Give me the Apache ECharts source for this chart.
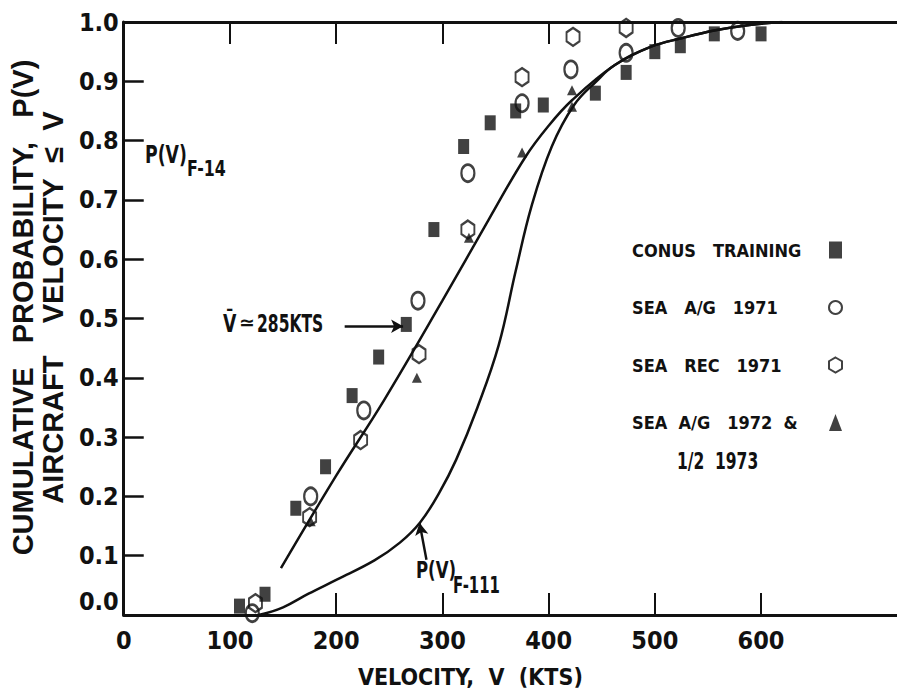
<!DOCTYPE html>
<html>
<head>
<meta charset="utf-8">
<script src="https://cdn.jsdelivr.net/npm/echarts@6/dist/echarts.min.js"></script>
<style>
  html, body { margin: 0; padding: 0; background: #fff; }
  #chart { width: 897px; height: 695px; }
</style>
</head>
<body>
<div id="chart"></div>
<script>
// ---------- data ----------
const xLabelValues = [0, 100, 200, 300, 400, 500, 600];
const xBottomTicks = [200, 300, 400, 500, 600];
const xTopTicks = [100, 200, 300, 400, 500];
const yLabelValues = [0, 0.1, 0.2, 0.3, 0.4, 0.5, 0.6, 0.7, 0.8, 0.9, 1.0];
const yTickValues = [0.1, 0.2, 0.3, 0.4, 0.5, 0.6, 0.7, 0.8, 0.9];

const seriesNames = ['CONUS   TRAINING', 'SEA   A/G   1971', 'SEA   REC   1971', 'SEA  A/G   1972  &  1/2  1973'];

const conusTraining = [[109,0.015],[133,0.035],[162,0.18],[190,0.25],[215,0.37],[240,0.435],[266,0.49],[292,0.65],[320,0.79],[345,0.83],[369,0.85],[395,0.86],[444,0.88],[473,0.915],[500,0.95],[524,0.96],[556,0.98],[600,0.98]];
const seaAG1971 = [[121,0.003],[176,0.2],[226,0.345],[277,0.53],[324,0.745],[375,0.863],[421,0.92],[473,0.948],[522,0.99],[578,0.985]];
const seaRec1971 = [[124,0.02],[175,0.165],[223,0.295],[278,0.44],[324,0.65],[375,0.907],[423,0.975],[473,0.99]];
const seaAG1972 = [[176,0.158],[276,0.40],[325,0.636],[375,0.78],[422,0.885],[422,0.857]];

const f14Curve = [[148,0.079],[200,0.235],[245,0.362],[300,0.53],[344,0.668],[378,0.772],[400,0.825],[422,0.868],[462,0.927],[496,0.958],[526,0.973],[557,0.986],[589,0.995],[620,1.0]];
const f111Curve = [[127,0],[150,0.013],[174,0.036],[201,0.06],[236,0.092],[260,0.122],[279,0.156],[297,0.206],[313,0.262],[333,0.35],[353,0.455],[369,0.58],[384,0.69],[403,0.79],[424,0.86],[445,0.9],[462,0.927],[496,0.958],[526,0.973],[557,0.986],[589,0.995],[620,1.0]];

// annotation arrows (data coordinates)
const meanArrow = [[208,0.487],[263,0.487]];
const f111Arrow = [[285,0.093],[278.5,0.155]];

// ---------- styling ----------
const NARROW = '"Liberation Sans Narrow", "DejaVu Sans Condensed", "Arial Narrow", sans-serif';
const WIDE = '"Liberation Sans", Arial, "DejaVu Sans", sans-serif';
const INK = '#111';
const HEX = 'path://M0,-1 L0.866,-0.5 L0.866,0.5 L0,1 L-0.866,0.5 L-0.866,-0.5 Z';

const chart = echarts.init(document.getElementById('chart'), null, { renderer: 'svg' });

const axisFont = { fontFamily: NARROW, fontWeight: 'bold', fontSize: 25, color: INK };
const legendRich = { fontFamily: NARROW, fontWeight: 'bold', fontSize: 18, color: INK, width: 192, align: 'left', lineHeight: 20 };

function note(text, x, y, size, sx) {
  return { type: 'text', x: x, y: y, scaleX: sx || 0.8, style: { text: text, font: 'bold ' + size + 'px ' + NARROW, fill: INK, verticalAlign: 'middle' } };
}

const option = {
  backgroundColor: '#fff',
  animation: false,
  grid: { left: 113, top: 22, right: 0, bottom: 80 },
  xAxis: [
    {
      type: 'value', min: 0, max: 728, position: 'bottom',
      name: 'VELOCITY,  V  (KTS)', nameLocation: 'middle', nameGap: 50,
      nameTextStyle: { fontFamily: NARROW, fontWeight: 'bold', fontSize: 23, color: INK, padding: [0, 80, 0, 0] },
      axisLine: { lineStyle: { color: INK, width: 3 } },
      axisTick: { inside: true, length: 22, customValues: xBottomTicks, lineStyle: { color: INK, width: 2 } },
      axisLabel: Object.assign({ customValues: xLabelValues, margin: 13 }, axisFont),
      splitLine: { show: false }
    },
    {
      type: 'value', min: 0, max: 728, position: 'top',
      axisLine: { lineStyle: { color: INK, width: 3 } },
      axisTick: { inside: true, length: 22, customValues: xTopTicks, lineStyle: { color: INK, width: 2 } },
      axisLabel: { show: false },
      splitLine: { show: false }
    }
  ],
  yAxis: {
    type: 'value', min: 0, max: 1, interval: 0.1,
    name: 'CUMULATIVE   PROBABILITY,   P(V)\nAIRCRAFT    VELOCITY  ≤  V',
    nameLocation: 'middle', nameGap: 46, nameRotate: 90,
    nameTextStyle: { fontFamily: WIDE, fontWeight: 'bold', fontSize: 29, lineHeight: 30, color: INK, padding: [0, 0, 0, 22] },
    axisLine: { lineStyle: { color: INK, width: 3 } },
    axisTick: { inside: true, length: 20, customValues: yTickValues, lineStyle: { color: INK, width: 2.5 } },
    axisLabel: Object.assign({
      customValues: yLabelValues, margin: 5,
      formatter: v => v === 0 ? '{z|0.0}' : v.toFixed(1),
      rich: { z: { fontFamily: NARROW, fontWeight: 'bold', fontSize: 25, color: INK, padding: [0, 0, 28, 0] } }
    }, axisFont),
    splitLine: { show: false }
  },
  legend: {
    orient: 'vertical', left: 632, top: 240, align: 'right', padding: 0,
    itemGap: 37.5, itemWidth: 13, itemHeight: 17, selectedMode: false,
    data: seriesNames,
    formatter: n => '{t|' + (n === seriesNames[3] ? 'SEA  A/G   1972  &' : n) + '}',
    textStyle: { fontFamily: NARROW, fontWeight: 'bold', fontSize: 18, color: INK, lineHeight: 20, rich: { t: legendRich } }
  },
  graphic: [
    note('P(V)', 145, 155, 24),
    note('F-14', 187, 169, 22),
    note('V\u0304', 223, 324, 24),
    { type: 'text', x: 239, y: 322, style: { text: '≃', font: 'bold 19px ' + WIDE, fill: INK, verticalAlign: 'middle' } },
    note('285KTS', 257, 324, 24, 0.72),
    note('P(V)', 416, 570, 23),
    note('F-111', 453, 585, 23, 0.72),
    note('1/2  1973', 677, 461, 23, 0.75)
  ],
  series: [
    {
      name: 'F-14', type: 'line', data: f14Curve, smooth: 0.4, showSymbol: false, silent: true,
      lineStyle: { color: INK, width: 2.5 }, z: 2,
      markLine: {
        silent: true, symbol: ['none', 'arrow'], symbolSize: [10, 12], label: { show: false },
        lineStyle: { color: INK, width: 2.5, type: 'solid' },
        data: [
          [{ coord: meanArrow[0] }, { coord: meanArrow[1] }],
          [{ coord: f111Arrow[0] }, { coord: f111Arrow[1] }]
        ]
      }
    },
    {
      name: 'F-111', type: 'line', data: f111Curve, smooth: 0.4, showSymbol: false, silent: true,
      lineStyle: { color: INK, width: 2.5 }, z: 2
    },
    {
      name: seriesNames[0], type: 'scatter', data: conusTraining, symbol: 'rect', symbolSize: [11, 15], clip: false,
      itemStyle: { color: INK }, z: 3
    },
    {
      name: seriesNames[1], type: 'scatter', data: seaAG1971, symbol: 'circle', symbolSize: [13, 17], clip: false,
      itemStyle: { color: 'rgba(255,255,255,0)', borderColor: INK, borderWidth: 2.5 }, z: 4
    },
    {
      name: seriesNames[2], type: 'scatter', data: seaRec1971, symbol: HEX, symbolSize: [13, 18], clip: false,
      itemStyle: { color: 'rgba(255,255,255,0)', borderColor: INK, borderWidth: 2.2 }, z: 4
    },
    {
      name: seriesNames[3], type: 'scatter', data: seaAG1972, symbol: 'triangle', symbolSize: [10, 10], clip: false,
      itemStyle: { color: INK }, z: 4
    }
  ]
};

chart.setOption(option);
</script>
</body>
</html>
